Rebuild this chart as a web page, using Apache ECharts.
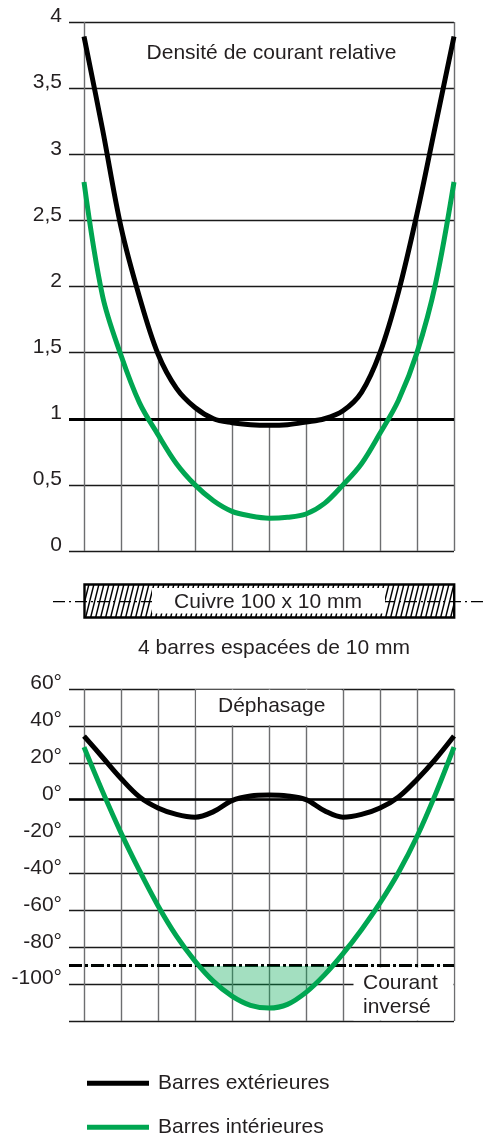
<!DOCTYPE html>
<html><head><meta charset="utf-8">
<script src="https://cdn.jsdelivr.net/npm/echarts@6/dist/echarts.min.js"></script>
<style>html,body{margin:0;padding:0;background:#fff}#c{width:484px;height:1135px}</style>
</head><body><div id="c"></div>
<script>
// ---- data ----
const xPos = [0,0.5,1,1.5,2,2.5,3,3.5,4,4.5,5,5.5,6,6.5,7,7.5,8,8.5,9,9.5,10];
const densityOuter = [3.89,3.19,2.45,1.92,1.49,1.23,1.085,1.00,0.97,0.955,0.95,0.955,0.975,1.00,1.06,1.20,1.50,1.96,2.55,3.22,3.89];
const densityInner = [2.79,1.93,1.48,1.12,0.88,0.66,0.50,0.38,0.30,0.265,0.248,0.255,0.28,0.36,0.50,0.66,0.89,1.14,1.50,2.02,2.79];
const phaseOuter = [34.5,23,11.5,1.5,-4.5,-8,-9.5,-6.5,-0.5,2,2.5,2,0,-6,-9.5,-8,-4.5,1.5,11,22,34.5];
const phaseInner = [28.5,4.5,-18,-38.5,-57.5,-74,-87.5,-98.5,-106.5,-111.5,-113,-111,-104.5,-95,-83.5,-70.5,-56,-39.5,-20,3,28.5];
const gridX = [0,1,2,3,4,5,6,7,8,9,10];
const densityRange = [0, 4, 0.5];
const phaseRange = [-120, 60, 20];
const reverseLevel = -90;
const names = ['Barres extérieures', 'Barres intérieures'];

// ---- styling ----
const FONT = "'Liberation Sans', Arial, sans-serif";
const TXT = '#231f20';
const GREEN = '#00a651';
const BLACK = '#000000';
const VGRID = '#6d6e70';
const HGRID = '#1a1a1a';
const xMin = -15 / 37;
const pairs = ys => xPos.map((x, i) => [x, ys[i]]);
const SM = 0.35;

const topTop = 22, topH = 529;
const botTop = 689, botH = 332;
const pxPerDeg = botH / (phaseRange[1] - phaseRange[0]);
const clipTop = botTop + (phaseRange[1] - reverseLevel) * pxPerDeg;
const clipH = botTop + botH - clipTop;

const vlineStyle = {color: VGRID, width: 1.4, type: 'solid'};
const topVLines = gridX.map(x => {
  const top = (x === gridX[0] || x === gridX[gridX.length - 1]) ? densityRange[1] : densityOuter[xPos.indexOf(x)];
  return [{coord: [x, densityRange[0]], lineStyle: vlineStyle}, {coord: [x, top]}];
});
const botVLines = gridX.map(x => [{coord: [x, phaseRange[0]], lineStyle: vlineStyle}, {coord: [x, phaseRange[1]]}]);

function hatch() {
  const w = 5, h = 20, c = document.createElement('canvas');
  c.width = w; c.height = h;
  const g = c.getContext('2d');
  g.strokeStyle = '#000'; g.lineWidth = 1.5;
  for (const off of [-w, 0, w]) { g.beginPath(); g.moveTo(off, h); g.lineTo(off + w, 0); g.stroke(); }
  return c;
}

const labelStyle = {fontSize: 21, color: TXT, fontFamily: FONT, margin: 7, verticalAlign: 'bottom', lineHeight: 11};
const txt = (text, x, y, align) => ({
  type: 'text', z: 110, x: 0, y: 0,
  style: {text, x, y, font: '21px ' + FONT, fill: TXT, align: align || 'center', textAlign: align || 'center',
          verticalAlign: 'middle', textVerticalAlign: 'middle'}
});
const legendBase = {
  orient: 'horizontal', left: 87, icon: 'rect', padding: 0,
  itemWidth: 62, itemHeight: 5, selectedMode: false,
  textStyle: {fontSize: 21, color: TXT, fontFamily: FONT, lineHeight: 24, padding: [0, 0, 0, 4]}
};
const curve = (name, ys, color, xi, extra) => Object.assign({
  name, type: 'line', xAxisIndex: xi, yAxisIndex: xi, data: pairs(ys), smooth: SM,
  symbol: 'none', z: 10, color, lineStyle: {color, width: 5, cap: 'butt', join: 'round'}, itemStyle: {color}
}, extra || {});

const option = {
  animation: false,
  backgroundColor: '#fff',
  grid: [
    {left: 69, top: topTop, width: 385, height: topH, outerBoundsMode: 'none'},
    {left: 69, top: botTop, width: 385, height: botH, outerBoundsMode: 'none'},
    {left: 69, top: clipTop, width: 385, height: clipH, outerBoundsMode: 'none'}
  ],
  xAxis: [0, 1, 2].map(i => ({type: 'value', gridIndex: i, min: xMin, max: 10, show: false})),
  yAxis: [
    {type: 'value', gridIndex: 0, min: densityRange[0], max: densityRange[1], interval: densityRange[2],
     axisLine: {show: false}, axisTick: {show: false},
     splitLine: {show: true, lineStyle: {color: HGRID, width: 1.3}},
     axisLabel: Object.assign({formatter: v => String(v).replace('.', ',')}, labelStyle)},
    {type: 'value', gridIndex: 1, min: phaseRange[0], max: phaseRange[1], interval: phaseRange[2],
     axisLine: {show: false}, axisTick: {show: false},
     splitLine: {show: true, lineStyle: {color: HGRID, width: 1.3}},
     axisLabel: Object.assign({formatter: v => v === phaseRange[0] ? '' : v + '°'}, labelStyle)},
    {type: 'value', gridIndex: 2, min: phaseRange[0], max: reverseLevel, show: false}
  ],
  legend: [
    Object.assign({data: [names[0]], top: 1071.3}, legendBase),
    Object.assign({data: [names[1]], top: 1115.3}, legendBase)
  ],
  series: [
    curve(names[0], densityOuter, BLACK, 0, {
      markLine: {silent: true, symbol: ['none', 'none'], label: {show: false}, animation: false,
        data: topVLines.concat([{yAxis: 1, lineStyle: {color: BLACK, width: 2.8, type: 'solid'}}])}}),
    curve(names[1], densityInner, GREEN, 0),
    curve(names[0], phaseOuter, BLACK, 1, {
      markLine: {silent: true, symbol: ['none', 'none'], label: {show: false}, animation: false,
        data: botVLines.concat([
          {yAxis: 0, lineStyle: {color: BLACK, width: 2.6, type: 'solid'}},
          {yAxis: reverseLevel, lineStyle: {color: BLACK, width: 2.8, type: [13, 3, 3, 3]}}
        ])}}),
    curve(names[1], phaseInner, GREEN, 1),
    {name: 'Courant inversé', type: 'line', xAxisIndex: 2, yAxisIndex: 2, data: pairs(phaseInner), smooth: SM,
     symbol: 'none', z: 6, clip: true, lineStyle: {opacity: 0, width: 0},
     areaStyle: {origin: 'end', color: 'rgba(0,166,81,0.36)', opacity: 1}}
  ],
  graphic: [
    txt('Densité de courant relative', 271.5, 53.5),
    // copper bar
    {type: 'rect', z: 100, shape: {x: 84.5, y: 584.5, width: 369.7, height: 33}, style: {fill: {image: hatch(), repeat: 'repeat'}}},
    {type: 'line', z: 101, shape: {x1: 53, y1: 601.7, x2: 484, y2: 601.7}, style: {stroke: '#000', lineWidth: 1.2, lineDash: [12, 4, 2, 4]}},
    {type: 'rect', z: 102, shape: {x: 152, y: 588, width: 233, height: 25.5}, style: {fill: '#fff'}},
    {type: 'rect', z: 103, shape: {x: 84.5, y: 584.5, width: 369.7, height: 33}, style: {fill: 'none', stroke: '#000', lineWidth: 2.4}},
    txt('Cuivre 100 x 10 mm', 268, 602.5),
    txt('4 barres espacées de 10 mm', 274, 648.5),
    // label boxes in the phase chart
    {type: 'rect', z: 100, shape: {x: 196.2, y: 689.8, width: 145.6, height: 35.4}, style: {fill: '#fff'}},
    txt('Déphasage', 271.7, 706.5),
    {type: 'rect', z: 100, shape: {x: 353.5, y: 967.6, width: 100, height: 52.8}, style: {fill: '#fff'}},
    txt('Courant', 363, 983.5, 'left'),
    txt('inversé', 363, 1006.8, 'left')
  ]
};
const chart = echarts.init(document.getElementById('c'), null, {renderer: 'canvas', width: 484, height: 1135});
chart.setOption(option);
</script></body></html>
